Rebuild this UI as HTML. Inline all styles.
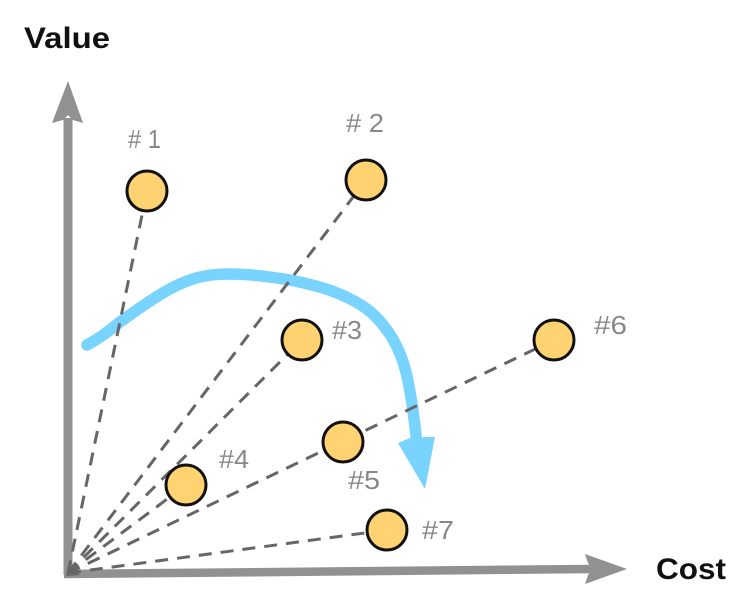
<!DOCTYPE html>
<html>
<head>
<meta charset="utf-8">
<style>
html,body{margin:0;padding:0;background:#fff;width:750px;height:601px;overflow:hidden}
svg{display:block}
text{font-family:"Liberation Sans",sans-serif}
.l{font-size:26px;fill:#888}
.t{font-size:30px;font-weight:bold;fill:#111}
.d{stroke:#666;stroke-width:3;stroke-dasharray:13 9;fill:none}
.c{fill:#ffd272;stroke:#111;stroke-width:3}
</style>
</head>
<body>
<svg width="750" height="601" viewBox="0 0 750 601" xmlns="http://www.w3.org/2000/svg">
<!-- axes -->
<path d="M68 575V118" stroke="#919191" stroke-width="9" fill="none"/>
<polygon points="68,81 83,123 73,120 68,115 63,120 52,123" fill="#919191"/>
<path d="M64 574L592 569" stroke="#919191" stroke-width="8.5" fill="none"/>
<polygon points="627,569 585,554 588,563 592,569 588,575 585,584" fill="#919191"/>
<!-- blue curve -->
<path d="M87 345C100 338 110 330 120 322C145 304 170 286 193 279C205 275 218 274 230 274C252 274 272 277 290 280C310 284 325 288 337 293C352 299 365 306 375 316C388 329 398 345 404 365C410 385 414 415 417 445" fill="none" stroke="#78d3ff" stroke-width="11.5" stroke-linecap="round"/>
<polygon points="425,489 398,443 410,438 417,445 423,437 435,437" fill="#78d3ff"/>
<!-- dashed -->
<path class="d" d="M68 573L147 191"/>
<path class="d" d="M68 573L366 180"/>
<path class="d" d="M68 573L302 340"/>
<path class="d" d="M68 573L186 485"/>
<path class="d" d="M68 573L554 340"/>
<path class="d" d="M68 573L387 530"/>
<polygon points="69,564 80,575 66,576" fill="#666"/>
<!-- nodes -->
<circle class="c" cx="147" cy="191" r="20"/>
<circle class="c" cx="366" cy="180" r="20"/>
<circle class="c" cx="302" cy="340" r="20"/>
<circle class="c" cx="186" cy="485" r="20"/>
<circle class="c" cx="343" cy="442" r="20"/>
<circle class="c" cx="554" cy="340" r="20"/>
<circle class="c" cx="387" cy="530" r="20"/>
<!-- labels -->
<text class="t" x="24" y="48" textLength="86" lengthAdjust="spacingAndGlyphs">Value</text>
<text class="t" x="656" y="579" textLength="70" lengthAdjust="spacingAndGlyphs">Cost</text>
<text class="l" x="128" y="148" textLength="33" lengthAdjust="spacingAndGlyphs"># 1</text>
<text class="l" x="346" y="132" textLength="38" lengthAdjust="spacingAndGlyphs"># 2</text>
<text class="l" x="332" y="339" textLength="30" lengthAdjust="spacingAndGlyphs">#3</text>
<text class="l" x="219" y="468" textLength="30" lengthAdjust="spacingAndGlyphs">#4</text>
<text class="l" x="348" y="489" textLength="32" lengthAdjust="spacingAndGlyphs">#5</text>
<text class="l" x="594" y="334" textLength="33" lengthAdjust="spacingAndGlyphs">#6</text>
<text class="l" x="422" y="539" textLength="32" lengthAdjust="spacingAndGlyphs">#7</text>
</svg>
</body>
</html>
